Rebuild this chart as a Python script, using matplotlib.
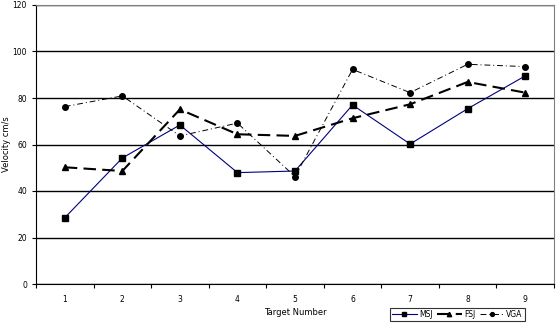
import matplotlib
matplotlib.use("Agg")
import matplotlib.pyplot as plt
import numpy as np

targets = [1, 2, 3, 4, 5, 6, 7, 8, 9]
msj = [28.5, 54.2, 68.4, 47.9, 48.6, 77.0, 60.2, 75.4, 89.5]
fsj = [50.2, 48.6, 75.1, 64.4, 63.7, 71.3, 77.3, 86.9, 82.3]
vga = [76.3, 80.9, 63.7, 69.2, 46.2, 92.3, 82.3, 94.5, 93.5]

plt.rcParams['font.family'] = ['DejaVu Sans']
fig = plt.figure(figsize=(5.6, 3.25), dpi=100)
ax = fig.add_axes([36 / 560, 1 - 284 / 325, 518 / 560, 279 / 325])

ax.plot(targets, msj, color='#000080', lw=0.8, marker='s', ms=4.5,
        mfc='black', mec='black', label='MSJ')
ax.plot(targets, fsj, color='black', lw=1.5, ls=(0, (6, 3)), marker='^', ms=4.5,
        mfc='black', mec='black', label='FSJ')
ax.plot(targets, vga, color='black', lw=0.7, ls=(0, (6, 3, 1, 3)), marker='o', ms=4,
        mfc='black', mec='black', label='VGA')

ax.set_xlim(0.5, 9.5)
ax.set_ylim(0, 120)
ax.set_yticks(np.arange(0, 121, 20))
ax.yaxis.grid(True, color='black', lw=1)
ax.set_axisbelow(True)

ax.set_xticks(targets)
ax.set_xticks(np.arange(0.5, 9.6, 1), minor=True)
ax.tick_params(axis='x', which='major', length=0, labelsize=5.5, pad=8)
ax.tick_params(axis='x', which='minor', length=3, direction='out', width=0.8)
ax.tick_params(axis='y', length=3, direction='out', labelsize=5.5, width=0.8)

for s in ['top', 'right']:
    ax.spines[s].set_color('#808080')
for s in ['left', 'bottom']:
    ax.spines[s].set_color('black')

ax.set_xlabel('Target Number', fontsize=6, labelpad=3)
ax.set_ylabel('Velocity cm/s', fontsize=6)
ax.yaxis.set_label_coords(-25 / 518, 0.5)

leg = ax.legend(loc='upper left', bbox_to_anchor=(386 / 560, 1 - 304 / 325),
                bbox_transform=fig.transFigure, ncol=3, fontsize=5.5,
                frameon=True, fancybox=False, edgecolor='black',
                handlelength=3.2, columnspacing=0.6, handletextpad=0.3,
                borderpad=0.3, markerscale=0.7)
leg.get_frame().set_linewidth(0.8)

fig.savefig('out.png', dpi=100)
